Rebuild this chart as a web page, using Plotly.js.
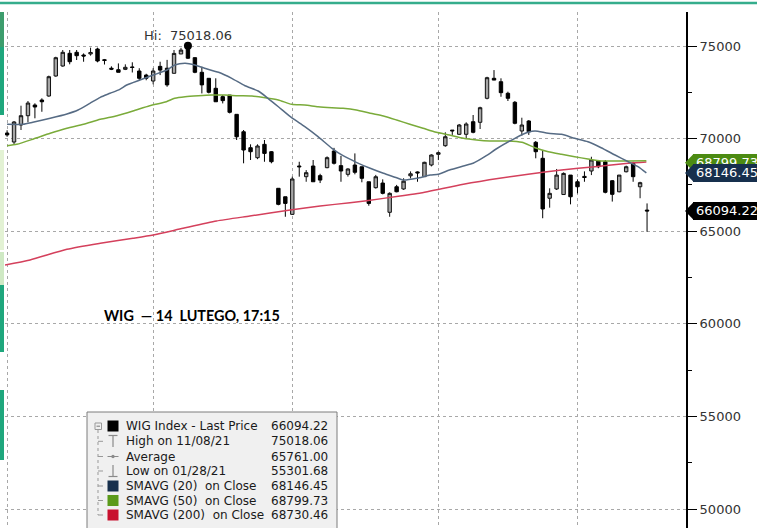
<!DOCTYPE html>
<html><head><meta charset="utf-8">
<script src="https://cdn.plot.ly/plotly-3.0.1.min.js"></script>
<style>html,body{margin:0;padding:0;background:#fff;}#chart{width:757px;height:528px;}</style>
</head><body><div id="chart"></div>
<script>
// ---------- DATA ----------
const dates = ['2021-09-30',
'2021-10-01','2021-10-04','2021-10-05','2021-10-06','2021-10-07','2021-10-08','2021-10-11','2021-10-12','2021-10-13','2021-10-14','2021-10-15','2021-10-18','2021-10-19','2021-10-20','2021-10-21','2021-10-22','2021-10-25','2021-10-26','2021-10-27','2021-10-28','2021-10-29',
'2021-11-02','2021-11-03','2021-11-04','2021-11-05','2021-11-08','2021-11-09','2021-11-10','2021-11-12','2021-11-15','2021-11-16','2021-11-17','2021-11-18','2021-11-19','2021-11-22','2021-11-23','2021-11-24','2021-11-25','2021-11-26','2021-11-29','2021-11-30',
'2021-12-01','2021-12-02','2021-12-03','2021-12-06','2021-12-07','2021-12-08','2021-12-09','2021-12-10','2021-12-13','2021-12-14','2021-12-15','2021-12-16','2021-12-17','2021-12-20','2021-12-21','2021-12-22','2021-12-23','2021-12-27','2021-12-28','2021-12-29','2021-12-30',
'2022-01-03','2022-01-04','2022-01-05','2022-01-07','2022-01-10','2022-01-11','2022-01-12','2022-01-13','2022-01-14','2022-01-17','2022-01-18','2022-01-19','2022-01-20','2022-01-21','2022-01-24','2022-01-25','2022-01-26','2022-01-27','2022-01-28','2022-01-31',
'2022-02-01','2022-02-02','2022-02-03','2022-02-04','2022-02-07','2022-02-08','2022-02-09','2022-02-10','2022-02-11','2022-02-14'];

const openP  = [70300,69816,70734,71236,71814,72084,72300,73380,73920,74606,74660,74514,74570,74838,74260,73800,73720,73740,73870,73650,73430,73110,73900,73800,73526,74570,74960,74370,73580,73256,72716,72264,72350,71310,70370,69508,68968,69690,69292,67316,66860,65910,68520,67944,68520,68000,68430,69330,68540,68070,68574,68480,67670,67350,67600,66020,67400,67280,67990,68200,67944,68574,69150,69616,70460,70232,70232,70912,70880,72176,73256,73072,72446,71960,70410,70950,69800,68936,66780,67280,66980,68030,67670,67960,68250,68790,68750,67726,67130,68210,68666,67400,66140];
const highP  = [70450,70950,71776,72030,71906,72176,73400,74420,74784,74784,74784,74600,74910,74910,74300,73900,74060,74010,74120,73800,73500,73800,74150,74250,74784,74900,75018.06,74380,73880,73256,73256,72350,72350,71310,70464,69690,69690,69924,69330,67316,66860,67944,68750,68300,68844,68100,69040,69500,69070,68400,69200,68480,67670,68040,67800,67100,67500,67860,68230,68230,68750,69150,69300,70340,70464,70790,70880,71274,71722,73340,73700,73256,72532,72030,71128,71000,69870,69384,67316,68360,68174,68030,67800,68230,69020,68844,68844,67760,68030,68540,68750,67670,66500];
const lowP   = [70100,69708,70464,70880,71096,71450,72260,73340,73880,74012,74244,74150,74480,74120,74000,73700,73580,73700,73570,73110,73150,72930,73430,72800,73520,74570,74300,73530,72440,72440,71990,71900,71360,69924,68666,68844,68890,68750,68666,66400,65780,65874,67944,67670,67670,67600,68400,68600,67670,67950,68070,67640,66376,67300,66990,65780,67100,67230,67850,67670,67944,68500,68840,69560,70200,70200,70016,70286,70518,72120,73160,72260,72030,70772,70160,70200,68936,65700,66270,67225,66980,66450,67044,67670,68030,68400,67044,66600,67100,68174,67670,66780,64970];
const closeP = [70200,70896,71236,71920,71706,71990,73342,74368,74660,74152,74476,74460,74650,74190,74220,73750,73580,73850,73840,73256,73256,73650,73700,72900,74600,74780,74340,73580,72900,72500,71990,72050,71420,70100,69384,69292,69600,69200,68752,66450,66500,67820,68480,68160,67670,67760,68970,68666,68250,68360,68180,67856,66500,67940,67044,67044,67130,67700,68100,68150,68720,69114,69240,70100,70420,70734,70788,70340,71668,73288,73160,72480,72176,70826,70734,70370,69292,66200,67044,68030,68120,66860,67400,67900,68844,68480,67100,66990,68030,68480,67944,67620,66094.22];

// moving averages, read at positions along the day index
const sma20X = [0,2.3,3.7,6.2,8.6,10.2,11.9,13.4,14.8,16.2,17.2,19.1,21,23,24.1,25.6,27,28.4,30.4,32.3,34.2,36.1,37.5,39,40.9,42.8,44.7,46.7,48.3,50.2,52.2,54.1,56,56.9,58.9,60.8,62,63.6,65.6,67,68.9,70.3,73,74.9,75.9,77.8,79.7,81.6,83.5,85.4,87.4,89.3,90.7,91.9];
const sma20  = [70772,70772,70880,71096,71328,71544,71906,72230,72446,72662,72894,73164,73434,73704,73974,74066,73974,73796,73580,73256,72856,72570,72176,71722,71128,70642,70102,69476,69076,68720,68396,68126,67888,67764,67856,68034,68072,68304,68520,68666,69076,69438,70016,70340,70410,70286,70232,70016,69832,69508,69114,68752,68482,68146.45];
const sma50X = [0,1.4,3.8,6.2,8.6,11,13.4,15.8,18.1,20.5,22.9,24.1,25.6,27.5,29.4,31.3,33.2,35.2,37.1,39,40.9,42.8,44.7,46.7,48.3,50.2,52.2,54.1,56,57.9,59.8,61.7,63.6,65.6,67.5,69.4,70.8,72,74,75.9,77.8,79.7,81.6,83.5,85.4,87.4,89.3,91.9];
const sma50  = [69616,69692,69978,70286,70556,70772,71042,71236,71490,71776,71992,72176,72262,72316,72354,72354,72316,72300,72208,72084,71852,71814,71722,71668,71636,71544,71366,71220,71004,70772,70556,70340,70194,70016,69924,69870,69870,69870,69800,69508,69292,69152,69022,68898,68790,68790,68790,68799.73];
const sma200X = [-0.3,3.3,8.6,13.4,18.1,21,25.3,30.1,34.9,40.7,45,49.3,51.7,56.5,59.3,65.6,70.8,74.9,79.7,84.5,89.3,91.9];
const sma200  = [63174,63444,64022,64346,64616,64794,65156,65550,65820,66144,66360,66538,66646,66900,67046,67532,67856,68072,68304,68482,68666,68730.46];

const gridDates = ['2021-09-30','2021-10-29','2021-11-30','2021-12-30','2022-01-31'];
const yTicks = [50000,55000,60000,65000,70000,75000];
const yTickLabels = ['50000','55000','60000','65000','70000','75000'];
const yMinor = [52500,57500,62500,67500,72500];

const hiDate = '2021-11-08', hiValue = 75018.06;
const lastValue = 66094.22, sma20Last = 68146.45, sma50Last = 68799.73;

const legendLabels = ['WIG Index - Last Price','High on 11/08/21','Average','Low on 01/28/21','SMAVG (20)\u00a0 on Close','SMAVG (50)\u00a0 on Close','SMAVG (200)\u00a0 on Close'];
const legendValues = ['66094.22','75018.06','65761.00','55301.68','68146.45','68799.73','68730.46'];
const chartTitle = 'WIG\u00a0 \u2014 14\u00a0 LUTEGO, 17:15';

// ---------- STYLE ----------
const C20 = '#566b84', C50 = '#7aab3a', C200 = '#d4405c';
const NAVY = '#17304d', GREEN = '#4c8b12';
const FONT = 'DejaVu Sans';
const idx = dates.map((d, i) => i);
const gridIdx = gridDates.map(d => dates.indexOf(d));
const hiIdx = dates.indexOf(hiDate);

const L = 5, R = 71, T = 12, B = 0, W = 757 - L - R, H = 528 - T - B;
const Y0 = 48974, Y1 = 76836;
const upx = (Y1 - Y0) / H;
const pxX = p => (p - L) / W;
const pxY = p => (528 - B - p) / H;

const traces = [
  {type:'candlestick', x: idx, open: openP, high: highP, low: lowP, close: closeP,
   increasing:{line:{color:'#111', width:1}, fillcolor:'#a6a6a6'},
   decreasing:{line:{color:'#000', width:1}, fillcolor:'#000'},
   whiskerwidth:0, hoverinfo:'skip', showlegend:false},
  {type:'scatter', mode:'lines', x: sma200X, y: sma200, line:{color:C200, width:1.5, shape:'spline', smoothing:0.6}, hoverinfo:'skip', showlegend:false},
  {type:'scatter', mode:'lines', x: sma50X, y: sma50, line:{color:C50, width:1.5, shape:'spline', smoothing:0.6}, hoverinfo:'skip', showlegend:false},
  {type:'scatter', mode:'lines', x: sma20X, y: sma20, line:{color:C20, width:1.5, shape:'spline', smoothing:0.6}, hoverinfo:'skip', showlegend:false},
  {type:'scatter', mode:'markers', x:[hiIdx], y:[hiValue], marker:{symbol:'circle', size:8, color:'#000'}, hoverinfo:'skip', showlegend:false},
  {type:'scatter', mode:'markers', x: yTicks.map(() => (691 - L) / W * 97.9 - 0.3), y: yTicks, marker:{symbol:'triangle-right', size:9, color:'#111'}, cliponaxis:false, hoverinfo:'skip', showlegend:false}
];

const shapes = [];
const annotations = [];

// top teal line
shapes.push({type:'line', xref:'paper', yref:'paper', x0:pxX(0), x1:pxX(757), y0:pxY(3), y1:pxY(3), line:{color:'#35ad8c', width:2.5}, layer:'above'});
// left strip
[[12,47,'#3d9d6d'],[47,115,'#1fa77d'],[150,250,'#e3f2d4'],[252,285,'#cfe9c4'],[285,352,'#1fa77d'],[390,460,'#1fa77d']].forEach(s => {
  shapes.push({type:'rect', xref:'paper', yref:'paper', x0:pxX(0), x1:pxX(4), y0:pxY(s[1]), y1:pxY(s[0]), fillcolor:s[2], line:{width:0}, layer:'above'});
});

// price tags: pointed tip as shape, body as annotation background so later tags cover earlier text
function tipPath(v) {
  const h = 8.8 * upx;
  const xt = pxX(685), xb = pxX(693.5);
  return `M${xt},${v} L${xb},${v + h} L${xb},${v - h} Z`;
}
function tagAnn(v, txt, col) {
  return {xref:'paper', yref:'y', x:pxX(693), y:v, xanchor:'left', yanchor:'middle', text:txt, showarrow:false,
          font:{family:FONT, size:13, color:'#ffffff'}, bgcolor:col, borderpad:3, borderwidth:0,
          width:66, height:11.6, align:'left'};
}
const greenV = sma50Last - 2.0 * upx;
shapes.push({type:'path', xref:'paper', yref:'y', path: tipPath(greenV), fillcolor:GREEN, line:{width:0}, layer:'above'});
shapes.push({type:'path', xref:'paper', yref:'y', path: tipPath(sma20Last), fillcolor:NAVY, line:{width:0}, layer:'above'});
shapes.push({type:'path', xref:'paper', yref:'y', path: tipPath(lastValue), fillcolor:'#000000', line:{width:0}, layer:'above'});
annotations.push(tagAnn(greenV, '68799.73', GREEN));
annotations.push(tagAnn(sma20Last, '68146.45', NAVY));
annotations.push(tagAnn(lastValue, '66094.22', '#000000'));

// Hi label
annotations.push({xref:'x', yref:'paper', x:hiIdx, y:pxY(36), xanchor:'center', yanchor:'middle', text:'Hi:\u00a0 75018.06', showarrow:false, font:{family:FONT, size:13, color:'#333'}});
// title text
annotations.push({xref:'paper', yref:'paper', x:pxX(102), y:pxY(316), xanchor:'left', yanchor:'middle', text:'<b>' + chartTitle + '</b>', showarrow:false, font:{family:'Lato', size:14.4, color:'#000'}});

// legend box
shapes.push({type:'rect', xref:'paper', yref:'paper', x0:pxX(87), x1:pxX(337), y0:pxY(540), y1:pxY(412), fillcolor:'#f0f0f0', line:{color:'#7d7d7d', width:1}, layer:'above'});
const rowY = [426, 441.3, 456.5, 471, 486, 500.5, 515];
const sqColors = ['#000000', null, null, null, '#17304d', '#5b9a1a', '#c8102e'];
const G = '#8a8a8a';
rowY.forEach((y, i) => {
  if (sqColors[i]) shapes.push({type:'rect', xref:'paper', yref:'paper', x0:pxX(107.5), x1:pxX(118.5), y0:pxY(y + 5.5), y1:pxY(y - 5.5), fillcolor:sqColors[i], line:{width:0}, layer:'above'});
  annotations.push({xref:'paper', yref:'paper', x:pxX(124), y:pxY(y), xanchor:'left', yanchor:'middle', text:legendLabels[i], showarrow:false, font:{family:FONT, size:12, color:'#1a1a1a'}});
  annotations.push({xref:'paper', yref:'paper', x:pxX(330), y:pxY(y), xanchor:'right', yanchor:'middle', text:legendValues[i], showarrow:false, font:{family:FONT, size:12, color:'#1a1a1a'}});
  if (i > 0) shapes.push({type:'line', xref:'paper', yref:'paper', x0:pxX(98), x1:pxX(103), y0:pxY(y), y1:pxY(y), line:{color:'#999', width:1}, layer:'above'});
});
// tree
shapes.push({type:'rect', xref:'paper', yref:'paper', x0:pxX(95), x1:pxX(101.5), y0:pxY(429.5), y1:pxY(423), fillcolor:'#f0f0f0', line:{color:'#999', width:1}, layer:'above'});
shapes.push({type:'line', xref:'paper', yref:'paper', x0:pxX(96.5), x1:pxX(100), y0:pxY(426.2), y1:pxY(426.2), line:{color:'#777', width:1}, layer:'above'});
shapes.push({type:'line', xref:'paper', yref:'paper', x0:pxX(98), x1:pxX(98), y0:pxY(430), y1:pxY(515), line:{color:'#999', width:1, dash:'dot'}, layer:'above'});
// icons: high, average, low
shapes.push({type:'line', xref:'paper', yref:'paper', x0:pxX(108.5), x1:pxX(117.5), y0:pxY(435.5), y1:pxY(435.5), line:{color:G, width:1.2}, layer:'above'});
shapes.push({type:'line', xref:'paper', yref:'paper', x0:pxX(113), x1:pxX(113), y0:pxY(435.5), y1:pxY(447), line:{color:G, width:1.2}, layer:'above'});
shapes.push({type:'line', xref:'paper', yref:'paper', x0:pxX(107.5), x1:pxX(118.5), y0:pxY(456.5), y1:pxY(456.5), line:{color:G, width:1}, layer:'above'});
shapes.push({type:'circle', xref:'paper', yref:'paper', x0:pxX(111.3), x1:pxX(114.7), y0:pxY(458.2), y1:pxY(454.8), fillcolor:G, line:{width:0}, layer:'above'});
shapes.push({type:'line', xref:'paper', yref:'paper', x0:pxX(113), x1:pxX(113), y0:pxY(465), y1:pxY(476.5), line:{color:G, width:1.2}, layer:'above'});
shapes.push({type:'line', xref:'paper', yref:'paper', x0:pxX(108.5), x1:pxX(117.5), y0:pxY(476.5), y1:pxY(476.5), line:{color:G, width:1.2}, layer:'above'});

const layout = {
  width:757, height:528,
  margin:{l:L, r:R, t:T, b:B, pad:0},
  paper_bgcolor:'#ffffff', plot_bgcolor:'#ffffff',
  showlegend:false, hovermode:false,
  xaxis:{range:[-0.3, 97.6], tickmode:'array', tickvals:gridIdx, showticklabels:false, ticks:'',
         showgrid:true, gridcolor:'#a8a8a8', griddash:'dot', gridwidth:1, zeroline:false, showline:false,
         rangeslider:{visible:false}, fixedrange:true},
  yaxis:{side:'right', range:[Y0, Y1], tickmode:'array', tickvals:yTicks, ticktext:yTickLabels,
         ticks:'outside', ticklen:9, tickwidth:1, tickcolor:'#000',
         showline:true, linecolor:'#000', linewidth:2, mirror:false,
         showgrid:true, gridcolor:'#a8a8a8', griddash:'dot', gridwidth:1, zeroline:false,
         tickfont:{family:FONT, size:13, color:'#333'},
         minor:{tickmode:'array', tickvals:yMinor, ticks:'outside', ticklen:4, tickwidth:1, tickcolor:'#000', showgrid:false},
         fixedrange:true},
  shapes: shapes,
  annotations: annotations
};

Plotly.newPlot('chart', traces, layout, {displayModeBar:false, staticPlot:true});
</script></body></html>
